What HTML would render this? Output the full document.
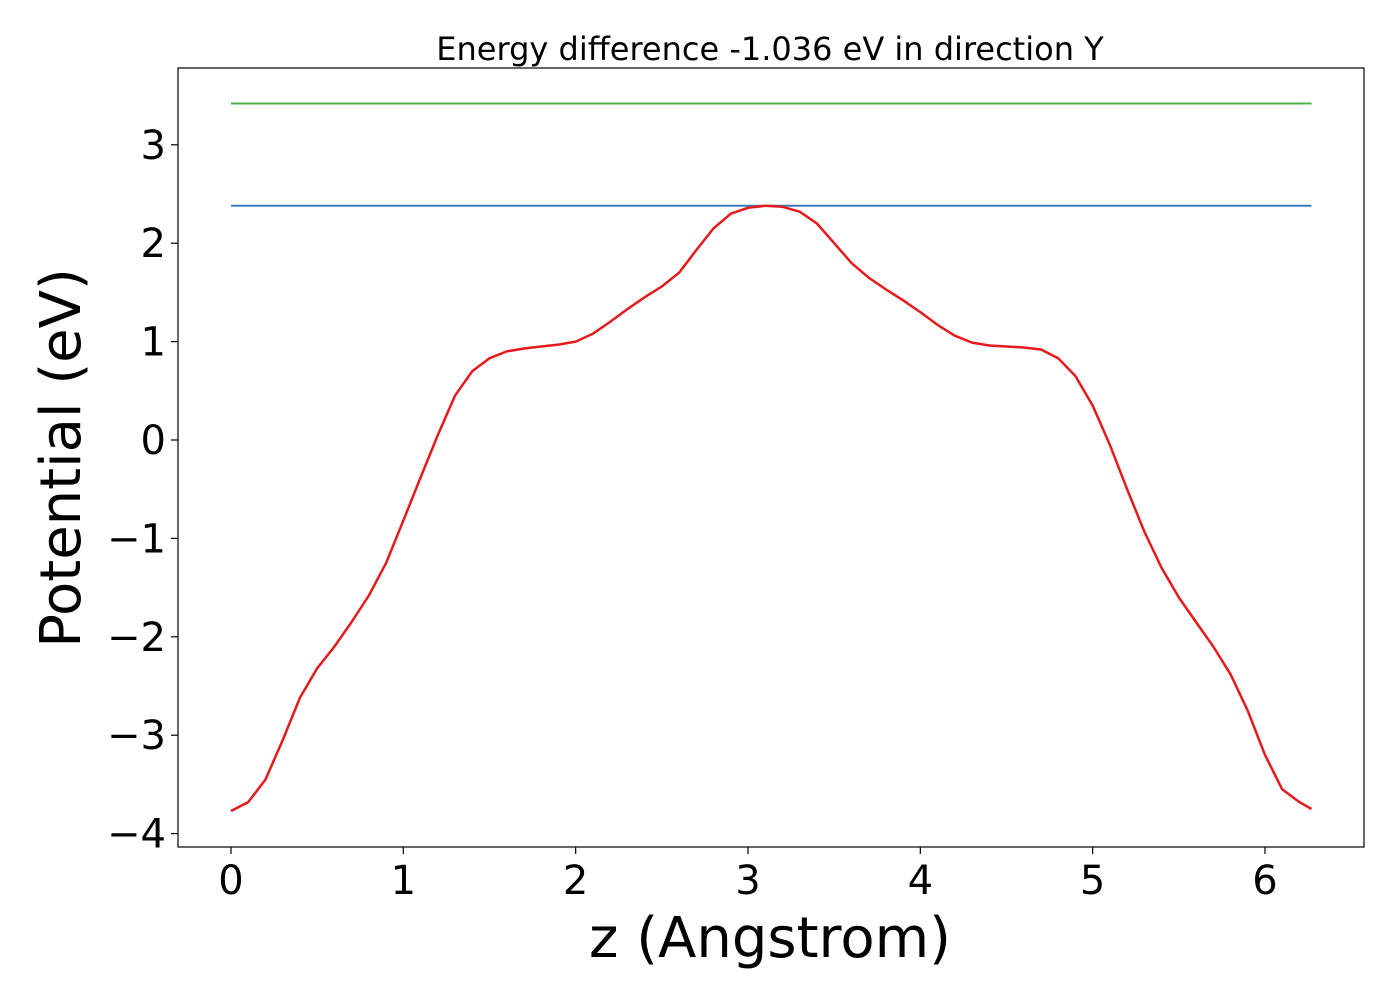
<!DOCTYPE html>
<html><head><meta charset="utf-8"><style>
body{margin:0;background:#fff}
svg text{font-family:"DejaVu Sans","Liberation Sans",sans-serif;fill:#000}
</style></head><body>
<svg id="chart" width="1400" height="1000" xmlns="http://www.w3.org/2000/svg">
<rect x="0" y="0" width="1400" height="1000" fill="#fff"/>
<text x="770" y="60" font-size="32" text-anchor="middle">Energy difference -1.036 eV in direction Y</text>
<g id="plot"></g>
<rect x="178" y="68" width="1186" height="779" fill="none" stroke="#000" stroke-width="1.2"/>
<text x="770" y="957" font-size="56" text-anchor="middle">z (Angstrom)</text>
<text transform="translate(80,458) rotate(-90)" font-size="56" text-anchor="middle">Potential (eV)</text>
</svg>
<script>
const zValues=[0,0.1,0.2,0.3,0.4,0.5,0.6,0.7,0.8,0.9,1.0,1.1,1.2,1.3,1.4,1.5,1.6,1.7,1.8,1.9,2.0,2.1,2.2,2.3,2.4,2.5,2.6,2.7,2.8,2.9,3.0,3.1,3.2,3.3,3.4,3.5,3.6,3.7,3.8,3.9,4.0,4.1,4.2,4.3,4.4,4.5,4.6,4.7,4.8,4.9,5.0,5.1,5.2,5.3,5.4,5.5,5.6,5.7,5.8,5.9,6.0,6.1,6.2,6.27];
const potential=[-3.77,-3.68,-3.45,-3.05,-2.62,-2.32,-2.1,-1.85,-1.58,-1.25,-0.82,-0.38,0.05,0.45,0.7,0.83,0.9,0.93,0.95,0.97,1.0,1.08,1.2,1.33,1.45,1.56,1.7,1.93,2.15,2.3,2.36,2.38,2.37,2.32,2.2,2.0,1.8,1.65,1.53,1.42,1.3,1.17,1.06,0.99,0.96,0.95,0.94,0.92,0.83,0.65,0.35,-0.05,-0.5,-0.93,-1.3,-1.6,-1.85,-2.1,-2.38,-2.75,-3.2,-3.55,-3.68,-3.75];
const blueLevel=2.38;
const greenLevel=3.42;
const xTicks=[0,1,2,3,4,5,6];
const yTicks=[3,2,1,0,-1,-2,-3,-4];
const NS="http://www.w3.org/2000/svg";
const xs=v=>231+v*172.33;
const ys=v=>440-v*98.4;
const g=document.getElementById('plot');
function mk(t,a){const e=document.createElementNS(NS,t);for(const k in a)e.setAttribute(k,a[k]);g.appendChild(e);return e;}
xTicks.forEach(t=>{
 const l=mk('line',{x1:xs(t),x2:xs(t),y1:847,y2:854,stroke:'#000','stroke-width':1.2});
 
 
 const tx=mk('text',{x:xs(t),y:894,'font-size':40,'text-anchor':'middle'});
 tx.textContent=t;
 
 
});
yTicks.forEach(t=>{
 const l=mk('line',{x1:171,x2:178,y1:ys(t),y2:ys(t),stroke:'#000','stroke-width':1.2});
 
 
 const tx=mk('text',{x:166,y:ys(t)+14,'font-size':40,'text-anchor':'end'});
 tx.textContent=t<0?'\u2212'+Math.abs(t):String(t);
 
 
});
const z0=zValues[0],z1=zValues[zValues.length-1];
const gl=mk('line',{x1:xs(z0),x2:xs(z1),y1:ys(greenLevel),y2:ys(greenLevel),stroke:'#4daf4a','stroke-width':2});


const bl=mk('line',{x1:xs(z0),x2:xs(z1),y1:ys(blueLevel),y2:ys(blueLevel),stroke:'#377eb8','stroke-width':2});


const pts=zValues.map((z,i)=>xs(z).toFixed(1)+','+ys(potential[i]).toFixed(1)).join(' ');
const pl=mk('polyline',{points:pts,fill:'none',stroke:'#e41a1c','stroke-width':2.5,'stroke-linejoin':'round'});


</script>
</body></html>
